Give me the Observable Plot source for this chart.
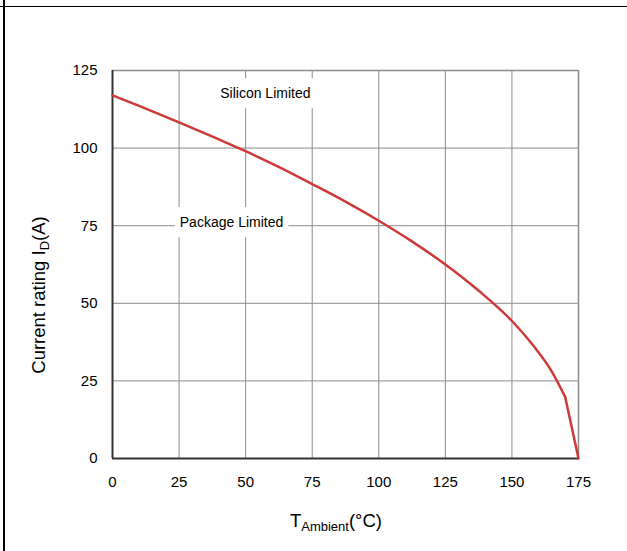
<!DOCTYPE html>
<html>
<head>
<meta charset="utf-8">
<script src="https://cdn.jsdelivr.net/npm/d3@7"></script>
<script src="https://cdn.jsdelivr.net/npm/@observablehq/plot@0.6"></script>
<style>
  html, body { margin: 0; padding: 0; background: #fff; }
  #wrap { position: relative; width: 627px; height: 551px; overflow: hidden; }
  #frameTop { position: absolute; left: 0; top: 6px; width: 627px; height: 0; border-top: 1px solid #000; }
  #frameLeft { position: absolute; left: 3px; top: 0; width: 0; height: 551px; border-left: 2px solid #000; }
  #chart { position: absolute; left: 0; top: 0; }
</style>
</head>
<body>
<div id="wrap">
  <div id="chart"></div>
  <div id="frameTop"></div>
  <div id="frameLeft"></div>
</div>
<script>
// Data
const temperature = [0, 10, 25, 40, 50, 62, 75, 88, 100, 112, 125, 138, 150, 158, 165, 170];
const current     = [117, 113.6, 108.3, 102.8, 99, 94.1, 88.4, 82.5, 76.6, 70.2, 62.5, 53.7, 44.3, 36.4, 28, 19.8];
const tailTemperature = [170, 175];
const tailCurrent = [19.8, 0];
const xTicks = [0, 25, 50, 75, 100, 125, 150, 175];
const yTicks = [0, 25, 50, 75, 100, 125];
const labelText = ["Silicon Limited", "Package Limited"];
const labelX = [57.4, 44.7];
const labelY = [117.5, 76];

const curve = temperature.map((t, i) => ({t, i: current[i]}));
const tail = tailTemperature.map((t, i) => ({t, i: tailCurrent[i]}));
const labels = labelText.map((s, i) => ({s, x: labelX[i], y: labelY[i]}));

const W = 627, H = 551;
const ml = 112, mr = 49, mt = 70, mb = 93;
const font = "'Liberation Sans', Arial, sans-serif";
const red = "#cc3a3a";

const plot = Plot.plot({
  width: W, height: H,
  marginLeft: ml, marginRight: mr, marginTop: mt, marginBottom: mb,
  style: {fontFamily: font, fontSize: "15px", color: "#000", background: "#fff"},
  x: {domain: [0, 175]},
  y: {domain: [0, 125]},
  marks: [
    Plot.gridX(xTicks, {stroke: "#8c8c8c", strokeOpacity: 1, strokeWidth: 1}),
    Plot.gridY(yTicks, {stroke: "#8c8c8c", strokeOpacity: 1, strokeWidth: 1}),
    Plot.ruleY([125], {stroke: "#8c8c8c", strokeWidth: 1.5}),
    Plot.ruleX([175], {stroke: "#8c8c8c", strokeWidth: 1.5}),
    Plot.axisX(xTicks, {label: null, tickSize: 0, tickPadding: 18, fontSize: 15, fill: "#000"}),
    Plot.axisY(yTicks, {label: null, tickSize: 0, tickPadding: 15, fontSize: 15, fill: "#000"}),
    Plot.text(labels, {x: "x", y: "y", text: "s", fill: "#000", fontSize: 14}),
    Plot.ruleY([0], {stroke: "#333", strokeWidth: 2}),
    Plot.ruleX([0], {stroke: "#333", strokeWidth: 2}),
    Plot.line(curve, {x: "t", y: "i", stroke: red, strokeWidth: 2.5, curve: "monotone-x"}),
    Plot.line(tail, {x: "t", y: "i", stroke: red, strokeWidth: 2.5})
  ]
});

document.getElementById("chart").appendChild(plot);

const svg = d3.select(plot);

// Make sure tick labels use the reference size
svg.selectAll('g[aria-label$="tick label"]').style("font-size", "15px")
  .selectAll("text").style("font-size", "15px");

// White boxes behind the region labels (interrupting gridlines)
svg.selectAll("text").filter(function() {
  return labelText.includes(this.textContent);
}).each(function() {
  const bb = this.getBBox();
  const padX = 5, padY = 7;
  const node = this;
  const r = document.createElementNS("http://www.w3.org/2000/svg", "rect");
  r.setAttribute("x", bb.x - padX);
  r.setAttribute("y", bb.y - padY);
  r.setAttribute("width", bb.width + 2 * padX);
  r.setAttribute("height", bb.height + 2 * padY);
  r.setAttribute("fill", "#fff");
  const tr = node.getAttribute("transform");
  if (tr) r.setAttribute("transform", tr);
  node.parentNode.insertBefore(r, node);
});

// Axis titles with subscripts
const xl = svg.append("text")
  .attr("x", 336).attr("y", 527)
  .attr("text-anchor", "middle")
  .style("font-family", font).style("font-size", "18.5px").attr("fill", "#000");
xl.append("tspan").text("T");
xl.append("tspan").style("font-size", "13px").attr("dy", 4).text("Ambient");
xl.append("tspan").attr("dy", -4).text("(°C)");

const yl = svg.append("text")
  .attr("transform", "translate(45,295) rotate(-90)")
  .attr("text-anchor", "middle")
  .style("font-family", font).style("font-size", "18.5px").attr("fill", "#000");
yl.append("tspan").text("Current rating I");
yl.append("tspan").style("font-size", "13px").attr("dy", 4).text("D");
yl.append("tspan").attr("dy", -4).text("(A)");
</script>
</body>
</html>
